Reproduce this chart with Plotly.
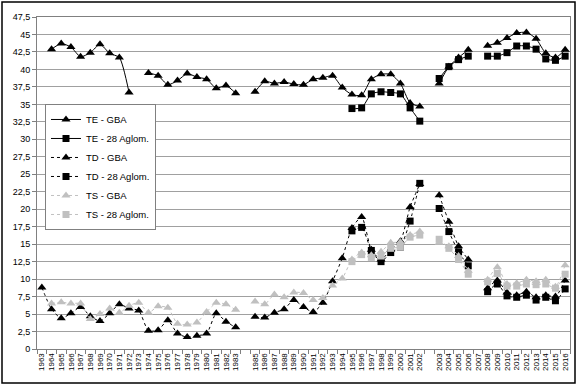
import plotly.graph_objects as go

# Categories (blank slots mark breaks in the series)
categories = [str(y) for y in range(1963, 1984)] + [" "] + \
             [str(y) for y in range(1985, 2003)] + ["  "] + \
             [str(y) for y in range(2003, 2017)]

te_gba = [None, 42.9, 43.7, 43.2, 41.8, 42.4, 43.6, 42.3, 41.7, 36.7,
          None, 39.5, 39.1, 37.8, 38.4, 39.4, 38.9, 38.6, 37.3, 37.7, 36.6,
          None,
          36.8, 38.3, 38.0, 38.2, 37.9, 37.8, 38.6, 38.8, 39.1, 37.4, 36.4, 36.3, 38.6, 39.3, 39.3, 38.0, 35.2, 34.7,
          None,
          38.0, 40.4, 41.7, 42.8, None, 43.4, 43.8, 44.5, 45.2, 45.3, 44.4, 42.3, 41.7, 42.8]

te_28 = [None, None, None, None, None, None, None, None, None, None,
         None, None, None, None, None, None, None, None, None, None, None,
         None,
         None, None, None, None, None, None, None, None, None, None, 34.4, 34.5, 36.5, 36.8, 36.7, 36.5, 34.5, 32.6,
         None,
         38.7, 40.4, 41.4, 41.9, None, 41.9, 41.9, 42.4, 43.35, 43.35, 42.9, 41.5, 41.3, 41.9]

td_gba = [8.8, 5.7, 4.4, 5.1, 6.0, 4.7, 4.0, 5.1, 6.4, 5.8,
          5.5, 2.6, 2.7, 4.1, 2.2, 1.7, 1.9, 2.2, 5.1, 3.9, 3.1,
          None,
          4.6, 4.5, 5.2, 5.7, 7.0, 6.0, 5.3, 6.6, 9.7, 13.0, 17.3, 18.9, 14.2, 12.8, 14.2, 15.4, 20.3, 23.6,
          None,
          22.0, 18.2, 14.7, 12.8, None, 8.7, 9.8, 8.1, 7.7, 8.2, 7.4, 7.7, 7.5, 9.8]

td_28 = [None, None, None, None, None, None, None, None, None, None,
         None, None, None, None, None, None, None, None, None, None, None,
         None,
         None, None, None, None, None, None, None, None, None, None, 16.9, 17.4, 14.1, 12.5, 13.8, 14.6, 18.3, 23.7,
         None,
         20.1, 16.8, 13.9, 11.9, None, 8.2, 9.3, 7.6, 7.4, 7.7, 7.0, 7.4, 6.9, 8.6]

ts_gba = [None, 6.5, 6.7, 6.5, 6.5, 4.3, 5.0, 5.8, 5.2, 6.2,
          6.6, 5.2, 6.1, 5.9, 3.6, 3.5, 3.8, 5.3, 6.6, 6.4, 5.6,
          None,
          6.8, 6.4, 7.8, 7.4, 8.1, 8.0, 7.0, 7.3, 9.1, 10.1, 12.8, 13.8, 13.4, 13.9, 15.2, 15.3, 16.3, 16.8,
          None,
          15.2, 14.7, 13.3, 11.2, None, 9.9, 11.7, 9.3, 9.4, 9.9, 9.7, 9.9, 8.9, 12.0]

ts_28 = [None, None, None, None, None, None, None, None, None, None,
         None, None, None, None, None, None, None, None, None, None, None,
         None,
         None, None, None, None, None, None, None, None, None, None, 12.5, 13.5, 13.1, 13.3, 14.4, 14.6, 16.0, 16.3,
         None,
         15.7, 14.4, 12.8, 10.7, None, 9.6, 10.8, 9.0, 9.0, 9.3, 9.2, 9.3, 8.7, 10.7]

series = [
    ("TE - GBA", te_gba, "#000000", "solid", "triangle-up", 8),
    ("TE - 28 Aglom.", te_28, "#000000", "solid", "square", 7),
    ("TD - GBA", td_gba, "#000000", "dot", "triangle-up", 8),
    ("TD - 28 Aglom.", td_28, "#000000", "dot", "square", 7),
    ("TS - GBA", ts_gba, "#c0c0c0", "dot", "triangle-up", 8),
    ("TS - 28 Aglom.", ts_28, "#c0c0c0", "dot", "square", 7),
]

fig = go.Figure()
for name, vals, col, dash, sym, size in series:
    fig.add_trace(go.Scatter(
        x=categories, y=vals, name=name, mode="lines+markers",
        line=dict(color=col, width=1, dash=dash, shape="spline", smoothing=0.6),
        marker=dict(symbol=sym, size=size, color=col),
        connectgaps=False, cliponaxis=False,
    ))

font = "Arial, Liberation Sans, sans-serif"
fig.update_layout(
    width=579, height=387,
    margin=dict(l=37, r=9, t=17, b=38),
    paper_bgcolor="white", plot_bgcolor="white",
    separators=",.",
    font=dict(family=font, size=9, color="#000000"),
    showlegend=True,
    legend=dict(x=0.015, y=0.738, xanchor="left", yanchor="top",
                bgcolor="white", bordercolor="#808080", borderwidth=1,
                font=dict(size=9.5, family=font), tracegroupgap=0,
                itemwidth=30),
    xaxis=dict(type="category", categoryorder="array", categoryarray=categories,
               range=[-0.5, len(categories) - 0.5],
               tickmode="linear", dtick=1,
               tickangle=-90, tickfont=dict(size=8, family=font),
               ticks="outside", ticklen=4, tickcolor="#808080", tickson="boundaries",
               showline=True, linecolor="#808080", linewidth=1, mirror=True,
               showgrid=False, zeroline=False),
    yaxis=dict(range=[0, 47.5], dtick=2.5, tick0=0,
               tickfont=dict(size=9, family=font),
               ticks="outside", ticklen=4, tickcolor="#808080",
               showline=True, linecolor="#808080", linewidth=1, mirror=True,
               showgrid=True, gridcolor="#a0a0a0", gridwidth=1, zeroline=False),
    shapes=[dict(type="rect", xref="paper", yref="paper",
                 x0=(2 - 37) / 533, x1=(575 - 37) / 533,
                 y0=(349 - 383) / 332, y1=(349 - 2) / 332,
                 line=dict(color="#000000", width=1.5), fillcolor="rgba(0,0,0,0)",
                 layer="below")],
)

fig.write_html("out.html", config={"displayModeBar": False},
               post_script="document.body.style.margin='0';")
